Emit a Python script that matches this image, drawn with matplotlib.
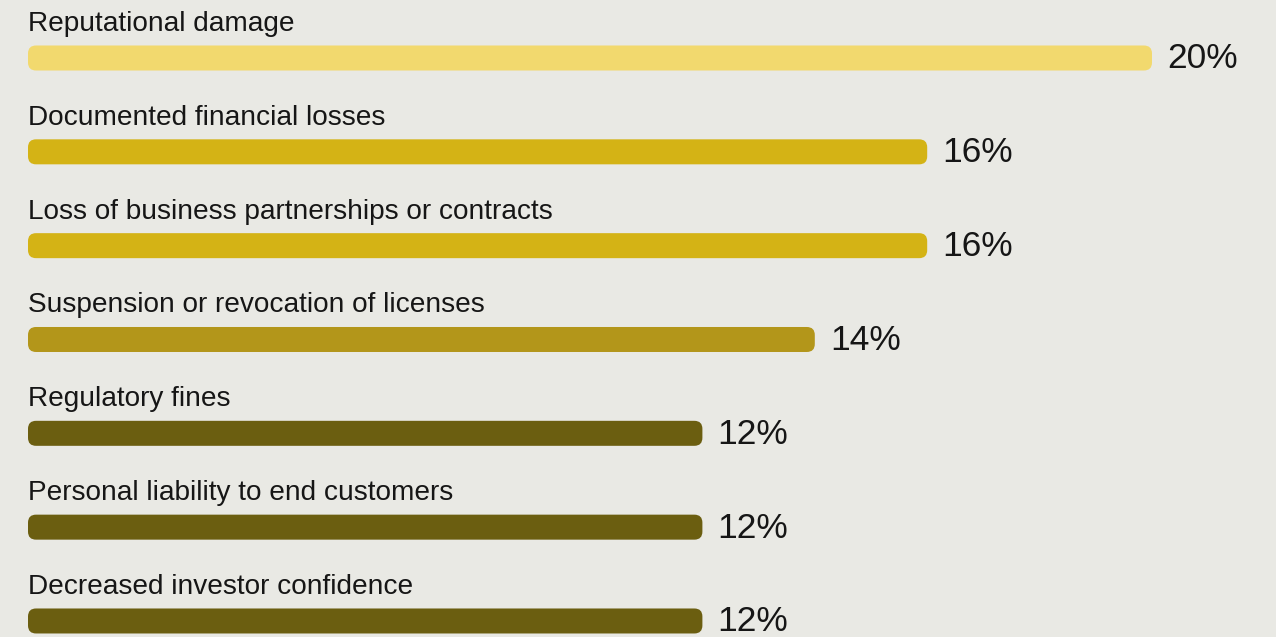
import matplotlib.pyplot as plt
from matplotlib.patches import FancyBboxPatch

# Consequences and share of respondents (%)
categories = [
    'Reputational damage',
    'Documented financial losses',
    'Loss of business partnerships or contracts',
    'Suspension or revocation of licenses',
    'Regulatory fines',
    'Personal liability to end customers',
    'Decreased investor confidence',
]
values = [20, 16, 16, 14, 12, 12, 12]
colors = ['#F2D96E', '#D4B315', '#D4B315', '#B3961A', '#6B5E10', '#6B5E10', '#6B5E10']

bg = '#E9E9E4'
W, H = 1276, 637
fig = plt.figure(figsize=(W / 100, H / 100), dpi=100, facecolor=bg)

# axes spans the bar area horizontally: x=0 at 28px, x=20 at 1152px
left_px, right_px = 28, 1152
ax = fig.add_axes([left_px / W, 0, (right_px - left_px) / W, 1])
ax.set_facecolor(bg)
ax.set_xlim(0, 20)
row_px = 93.83
ax.set_ylim((H - 58) / row_px, -58 / row_px)
ax.axis('off')

px_x = 20 / (right_px - left_px)   # data units per pixel, x
px_y = 1 / row_px                  # data units per pixel, y
bar_h = 25 * px_y
radius = 8 * px_x

for i, (cat, val, col) in enumerate(zip(categories, values, colors)):
    box = FancyBboxPatch((0, i - bar_h / 2), val, bar_h,
                         boxstyle=f'round,pad=0,rounding_size={radius}',
                         mutation_aspect=px_y / px_x,
                         facecolor=col, edgecolor='none', clip_on=False)
    ax.add_patch(box)
    ax.text(0, i - 27 * px_y, cat, fontsize=20.2, family='Liberation Sans',
            color='#161616', va='baseline', ha='left')
    ax.text(val + 15 * px_x, i + 1 * px_y, f'{val}%', fontsize=25.5,
            family='Liberation Sans', color='#161616', va='center', ha='left')

fig.savefig('out.png', dpi=100, facecolor=bg)
